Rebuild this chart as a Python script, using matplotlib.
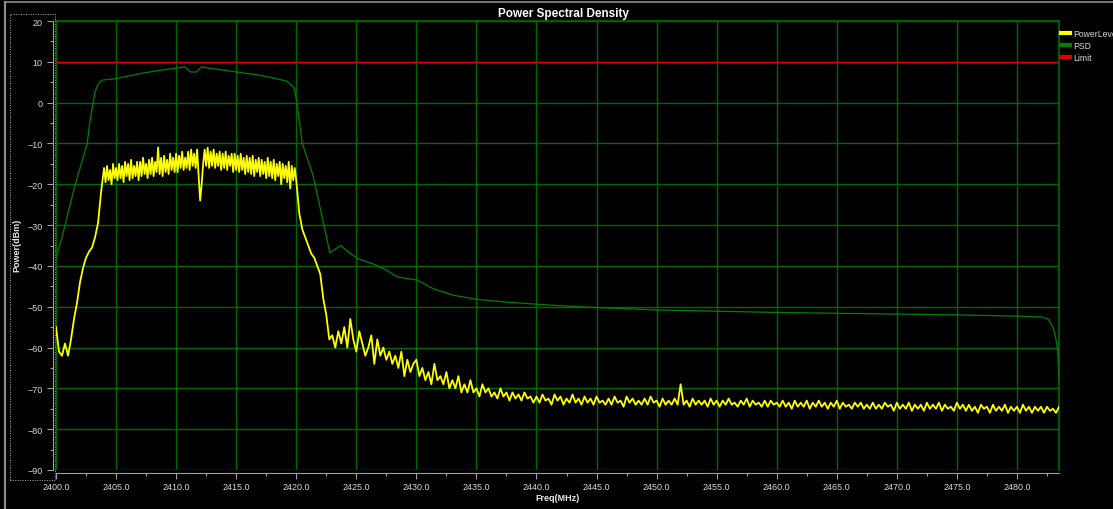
import numpy as np
import matplotlib
matplotlib.use("Agg")
import matplotlib.pyplot as plt
from matplotlib.patches import Rectangle
from matplotlib.lines import Line2D
from matplotlib.ticker import MultipleLocator, FormatStrFormatter

plt.rcParams['font.family'] = ['Liberation Sans', 'DejaVu Sans']

# PowerLevel trace, read in three pieces (start MHz, step MHz, readings)
rise_start, rise_step = 2400.0, 0.25
rise_level = [
    -55, -61, -62, -59, -62, -58, -53, -49,             # 2400
    -44, -40.5, -38, -36.5, -35.5, -33, -29.5, -22,     # 2402
]

band_start, band_step = 2404.0, 0.125
band_level = [
    -16, -19.5, -15.5, -19, -16.5, -20, -15, -18.5,     # 2404
    -16, -19, -15, -18.5, -15.5, -19.5, -14.5, -18,     # 2405
    -15, -19, -14, -18.5, -15.5, -18, -14.5, -19,       # 2406
    -14.5, -18, -13.5, -17.5, -15, -18.5, -14, -17.5,   # 2407
    -13.5, -18, -14.5, -17, -11, -17.5, -13.5, -18,     # 2408
    -13, -17, -14, -17.5, -12.5, -16.5, -13.5, -17,     # 2409
    -12.5, -17, -13, -16, -12, -16.5, -13.5, -16,       # 2410
    -12, -16.5, -11.5, -15.5, -12.5, -16, -11.5, -18,   # 2411
    -24, -20, -15, -11.5, -15.5, -11, -16, -12,         # 2412
    -15.5, -11.5, -16, -12.5, -15.5, -12, -16.5, -12.5, # 2413
    -16, -12, -16.5, -13, -15.5, -12.5, -17, -12.5,     # 2414
    -16.5, -13, -17, -12.5, -16.5, -13.5, -17.5, -13,   # 2415
    -17, -13.5, -17.5, -13, -18, -14, -17, -13.5,       # 2416
    -18, -14, -17.5, -14.5, -18.5, -13.5, -18, -14.5,   # 2417
    -18.5, -14, -19, -15, -18, -14.5, -20, -15,         # 2418
    -18.5, -15.5, -19.5, -14.5, -21, -15.5, -19, -16,   # 2419
    -19,                                                # 2420
]

tail_start, tail_step = 2420.25, 0.25
tail_level = [
    -27, -31, -33, -35, -37, -38, -40,                  # 2420.25
    -42, -48, -52, -58, -57, -60, -56, -59,             # 2422
    -55, -60, -53, -58, -61, -56, -59, -62,             # 2424
    -60, -57, -64, -58, -62, -60, -63, -61,             # 2426
    -64, -62, -65, -61, -67, -63, -66, -64,             # 2428
    -63, -67, -65, -68, -66, -69, -64, -68,             # 2430
    -67, -69, -66, -70, -68, -70, -67, -71,             # 2432
    -69, -71, -68, -71, -70, -72, -69, -71,             # 2434
    -70, -72, -71, -72.5, -70, -72, -71, -73,           # 2436
    -71, -72.5, -71.5, -73, -71, -72.5, -72, -73.5,     # 2438
    -72, -73.5, -71.5, -73, -72.5, -74, -71.5, -73,     # 2440
    -72, -74, -72.5, -73.5, -71.5, -73.5, -72.5, -74,   # 2442
    -72, -73.5, -72.5, -74, -72, -73.5, -73, -74,       # 2444
    -72.5, -74, -72, -73.5, -73, -74.5, -72, -73.5,     # 2446
    -72.5, -74, -73, -74, -72.5, -74, -72, -73.5,       # 2448
    -73, -74.5, -72.5, -74, -73, -74, -72.5, -74,       # 2450
    -69, -74, -73, -74.5, -72.5, -74, -73, -74,         # 2452
    -73, -74.5, -72.5, -74, -73, -74.5, -73, -74,       # 2454
    -72.5, -74, -73.5, -74.5, -73, -74, -72.5, -74.5,   # 2456
    -73, -74, -73.5, -74.5, -73, -74.5, -73, -74,       # 2458
    -73.5, -74.5, -73, -74.5, -73.5, -75, -73, -74.5,   # 2460
    -73.5, -74.5, -73, -75, -73.5, -74.5, -73, -74.5,   # 2462
    -73.5, -75, -73.5, -74.5, -73, -75, -73.5, -74.5,   # 2464
    -74, -75, -73.5, -74.5, -73.5, -75, -74, -75,       # 2466
    -73.5, -75, -74, -75, -73.5, -74.5, -74, -75.5,     # 2468
    -73.5, -75, -74, -75, -73.5, -75.5, -74, -75,       # 2470
    -74, -75.5, -73.5, -75, -74, -75, -73.5, -75.5,     # 2472
    -74, -75, -74.5, -75.5, -73.5, -75, -74, -75.5,     # 2474
    -74, -75.5, -74.5, -76, -74, -75, -74.5, -76,       # 2476
    -74, -75.5, -74.5, -75.5, -74, -76, -74.5, -75.5,   # 2478
    -74.5, -76, -74, -75.5, -74.5, -76, -74.5, -75.5,   # 2480
    -74.5, -76, -74.5, -75.5, -75, -76, -74.5,          # 2482
]

power_freq = np.concatenate([
    rise_start + rise_step * np.arange(len(rise_level)),
    band_start + band_step * np.arange(len(band_level)),
    tail_start + tail_step * np.arange(len(tail_level)),
])
power_level = np.array(rise_level + band_level + tail_level)

# PSD trace
psd_freq = [2400, 2400.5, 2401, 2401.6, 2402.2, 2402.6, 2402.8, 2403.0, 2403.25,
            2403.5, 2403.8, 2405.05, 2407, 2408.4, 2410.05, 2410.75, 2411.2,
            2411.7, 2412.1, 2413.1, 2415.05, 2417, 2419.2, 2419.8, 2420.05,
            2420.5, 2421.4, 2422.3, 2422.8, 2423.2, 2423.7, 2424.3, 2425.1,
            2426.4, 2427.5, 2428.4, 2430.1, 2431.4, 2433.1, 2435.1, 2437.6,
            2440.1, 2442.8, 2445, 2450, 2455, 2460, 2465, 2470, 2475, 2480,
            2482, 2482.6, 2483.0, 2483.25, 2483.4, 2483.5]
psd_value = [-38, -33, -27, -20, -14, -10, -5, -1.5, 2.6,
             4.5, 5.5, 5.9, 7.1, 7.8, 8.5, 8.75, 7.5,
             7.5, 8.75, 8.3, 7.5, 6.7, 5.3, 3.8, 0.2,
             -10, -17.8, -30, -36.8, -36, -35, -36.5, -38.2,
             -39.5, -41, -42.7, -43.5, -45.6, -47.2, -48.2, -48.9,
             -49.4, -49.9, -50.2, -50.8, -51.1, -51.4, -51.6, -51.8, -52.0, -52.3,
             -52.5, -53, -55, -58, -61, -68]

limit = 10

W, H = 1113, 510
fig = plt.figure(figsize=(W / 100, H / 100), dpi=100, facecolor='black')
ax = fig.add_axes([56 / W, 1 - 471 / H, (1059 - 56) / W, (471 - 22) / H])
ax.set_facecolor('black')

grid_green = '#006a00'
ax.grid(True, color=grid_green, linewidth=1.0, zorder=0)
ax.set_axisbelow(True)

ax.axhline(limit, color='#e00000', linewidth=1.0, label='Limit', zorder=2)
ax.plot(psd_freq, psd_value, color='#008000', linewidth=0.9, label='PSD', zorder=3)
ax.plot(power_freq, power_level, color='#ffff00', linewidth=1.3, label='PowerLevel', zorder=4)

ax.set_xlim(2400, 2483.5)
ax.set_ylim(-90, 20)
ax.xaxis.set_major_locator(MultipleLocator(5))
ax.xaxis.set_minor_locator(MultipleLocator(2.5))
ax.xaxis.set_major_formatter(FormatStrFormatter('%.1f'))
ax.yaxis.set_major_locator(MultipleLocator(10))
ax.yaxis.set_minor_locator(MultipleLocator(5))

for s in ['left', 'bottom']:
    ax.spines[s].set_color('#a0a0a0')
    ax.spines[s].set_position(('outward', 2))
for s in ['top', 'right']:
    ax.spines[s].set_color(grid_green)
    ax.spines[s].set_linewidth(1.2)

ax.tick_params(which='both', colors='#a0a0a0', labelcolor='#d8d8d8', labelsize=6.5, width=0.8)
ax.tick_params(which='major', length=4)
ax.tick_params(which='minor', length=2.5)
ax.tick_params(axis='x', pad=3)

fig.text(563 / W, 1 - 14 / H, 'Power Spectral Density', color='white', fontsize=8.5,
         fontweight='bold', ha='center', va='center')
fig.text(557 / W, 1 - 499 / H, 'Freq(MHz)', color='#e8e8e8', fontsize=6.5,
         fontweight='bold', ha='center', va='center')
fig.text(17 / W, 1 - 245 / H, 'Power(dBm)', color='#e8e8e8', fontsize=6.5,
         fontweight='bold', ha='center', va='center', rotation=90)

# window frame and dotted box round the y axis
fig.add_artist(Line2D([5 / W, 5 / W], [0, 1 - 3 / H], transform=fig.transFigure,
                      color='#8c8c8c', linewidth=1.6))
fig.add_artist(Line2D([5 / W, 1], [1 - 3 / H, 1 - 3 / H], transform=fig.transFigure,
                      color='#8c8c8c', linewidth=1.2))
fig.add_artist(Rectangle((10 / W, 1 - 481 / H), 45 / W, 466 / H, transform=fig.transFigure,
                         fill=False, edgecolor='#b0b0b0', linestyle=(0, (1, 1.5)), linewidth=0.7))

handles, labels = ax.get_legend_handles_labels()
order = [2, 1, 0]
leg = fig.legend([handles[i] for i in order], [labels[i] for i in order],
                 loc='upper left', bbox_to_anchor=(1061 / W, 1 - 30 / H),
                 frameon=False, fontsize=6.2, labelcolor='#d8d8d8',
                 handlelength=1.1, handletextpad=0.35, labelspacing=0.35,
                 borderaxespad=0, borderpad=0)
for line in leg.get_lines():
    line.set_linewidth(3)

fig.savefig('out.png', dpi=100, facecolor='black')
